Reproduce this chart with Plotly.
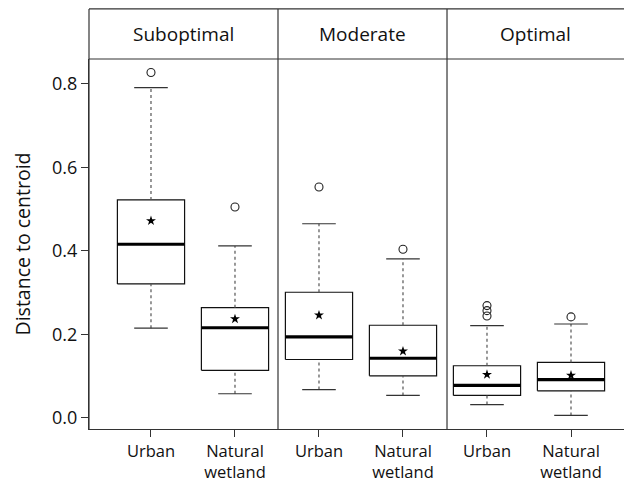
import plotly.graph_objects as go

# ---- data ----
groups = ["Suboptimal", "Moderate", "Optimal"]
categories = ["Urban", "Natural<br>wetland", "Urban", "Natural<br>wetland", "Urban", "Natural<br>wetland"]
positions = [1, 2, 3, 4, 5, 6]
lower_whisker = [0.215, 0.058, 0.068, 0.054, 0.032, 0.006]
q1 = [0.321, 0.114, 0.140, 0.101, 0.054, 0.065]
median = [0.416, 0.216, 0.194, 0.143, 0.078, 0.092]
q3 = [0.522, 0.264, 0.301, 0.222, 0.125, 0.133]
upper_whisker = [0.791, 0.412, 0.465, 0.381, 0.221, 0.225]
means = [0.472, 0.237, 0.246, 0.160, 0.104, 0.102]
outliers = [[0.827], [0.505], [0.553], [0.404], [0.244, 0.257, 0.269], [0.242]]
y_ticks = [0.0, 0.2, 0.4, 0.6, 0.8]
group_edges = [0.262, 2.512, 4.524, 6.631]

BW = 0.8   # box width (x units)
CW = 0.4   # whisker cap width

fig = go.Figure()

# boxes
bx, by = [], []
for p, a, b in zip(positions, q1, q3):
    bx += [p - BW/2, p + BW/2, p + BW/2, p - BW/2, p - BW/2, None]
    by += [a, a, b, b, a, None]
fig.add_trace(go.Scatter(x=bx, y=by, mode="lines", fill="toself", fillcolor="white",
                         line=dict(color="#111", width=1.2), hoverinfo="skip"))

# dashed whiskers
wx, wy = [], []
for p, lo, a, b, hi in zip(positions, lower_whisker, q1, q3, upper_whisker):
    wx += [p, p, None, p, p, None]
    wy += [lo, a, None, b, hi, None]
fig.add_trace(go.Scatter(x=wx, y=wy, mode="lines",
                         line=dict(color="#555", width=1.2, dash="3px,3px"), hoverinfo="skip"))

# caps
cx, cy = [], []
for p, lo, hi in zip(positions, lower_whisker, upper_whisker):
    cx += [p - CW/2, p + CW/2, None, p - CW/2, p + CW/2, None]
    cy += [lo, lo, None, hi, hi, None]
fig.add_trace(go.Scatter(x=cx, y=cy, mode="lines", line=dict(color="#333", width=1.2), hoverinfo="skip"))

# medians
mx, my = [], []
for p, m in zip(positions, median):
    mx += [p - BW/2, p + BW/2, None]
    my += [m, m, None]
fig.add_trace(go.Scatter(x=mx, y=my, mode="lines", line=dict(color="black", width=3.2), hoverinfo="skip"))

# means
fig.add_trace(go.Scatter(x=positions, y=means, mode="markers",
                         marker=dict(symbol="star", size=7.5, color="black", line=dict(width=0)),
                         hoverinfo="skip"))

# outliers
ox, oy = [], []
for p, vals in zip(positions, outliers):
    for v in vals:
        ox.append(p)
        oy.append(v)
fig.add_trace(go.Scatter(x=ox, y=oy, mode="markers",
                         marker=dict(symbol="circle-open", size=8, color="#222", line=dict(width=1.1)),
                         hoverinfo="skip"))

FONT = "Open Sans"
strip_top = 1 + 50 / 369.4

shapes = []
# strip box lines
shapes.append(dict(type="line", xref="paper", yref="paper", x0=0, x1=1, y0=strip_top, y1=strip_top,
                   line=dict(color="#333", width=1.2)))
shapes.append(dict(type="line", xref="paper", yref="paper", x0=0, x1=1, y0=1, y1=1,
                   line=dict(color="#333", width=1.2)))
shapes.append(dict(type="line", xref="paper", yref="paper", x0=0, x1=0, y0=0, y1=strip_top,
                   line=dict(color="#333", width=1.2)))
for e in group_edges[1:3]:
    shapes.append(dict(type="line", xref="x", yref="paper", x0=e, x1=e, y0=0, y1=strip_top,
                       line=dict(color="#333", width=1.2)))

annotations = []
for g, a, b in zip(groups, group_edges[:-1], group_edges[1:]):
    annotations.append(dict(x=(a + b) / 2, xref="x", y=(1 + strip_top) / 2, yref="paper",
                            text=g, showarrow=False, font=dict(family=FONT, size=19, color="#111"),
                            xanchor="center", yanchor="middle"))

fig.update_layout(
    width=624, height=485,
    margin=dict(l=89, r=0, t=59, b=56),
    paper_bgcolor="white", plot_bgcolor="white",
    showlegend=False,
    shapes=shapes,
    annotations=annotations,
    xaxis=dict(range=[group_edges[0], group_edges[-1]], tickvals=positions, ticktext=categories,
               showgrid=False, zeroline=False, showline=True, linecolor="#333", linewidth=1.2,
               ticks="outside", ticklen=7, tickcolor="#333",
               tickfont=dict(family=FONT, size=16.5, color="#111")),
    yaxis=dict(range=[-0.0264, 0.8595], tickvals=y_ticks, ticktext=[f"{v:.1f}" for v in y_ticks],
               showgrid=False, zeroline=False, showline=True, linecolor="#333", linewidth=1.2,
               ticks="outside", ticklen=7, tickcolor="#333",
               tickfont=dict(family=FONT, size=18, color="#111"),
               title=dict(text="Distance to centroid", font=dict(family=FONT, size=19.5, color="#111"),
                          standoff=16)),
)

fig.write_html("out.html")
